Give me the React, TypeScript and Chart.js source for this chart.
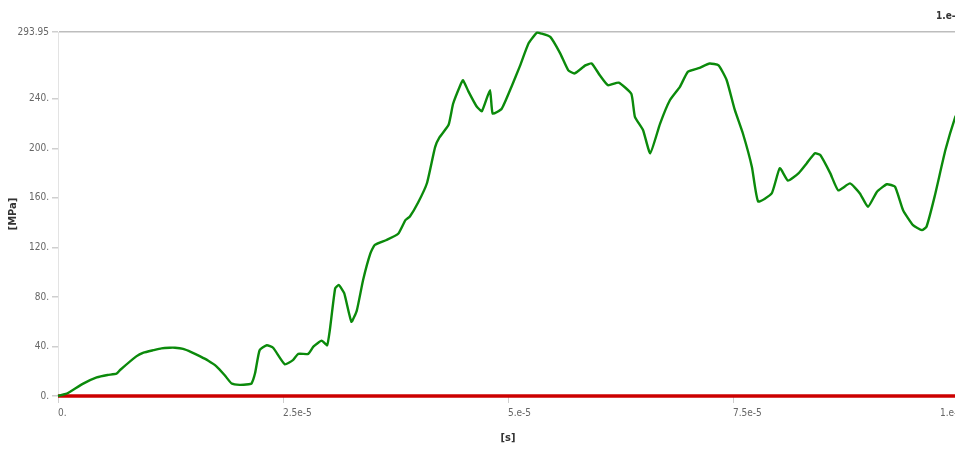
import React, { useEffect, useRef } from "react";
import { Chart, registerables } from "chart.js";

Chart.register(...registerables);

// time in units of 1e-5 s
const timeE5 = [
  0, 0.05, 0.1, 0.28, 0.43, 0.55, 0.65, 0.69, 0.87, 0.95, 1.06, 1.15, 1.24, 1.3, 1.39, 1.48, 1.58, 1.67, 1.76, 1.85,
  1.93, 2.02, 2.12, 2.15, 2.19, 2.24, 2.32, 2.39, 2.52, 2.61, 2.67, 2.78, 2.84, 2.93, 2.99, 3.02, 3.08, 3.12, 3.18,
  3.26, 3.32, 3.39, 3.47, 3.52, 3.65, 3.78, 3.86, 3.91, 4.0, 4.1, 4.19, 4.24, 4.34, 4.39, 4.47, 4.5, 4.56, 4.65, 4.71,
  4.8, 4.83, 4.93, 5.04, 5.13, 5.23, 5.32, 5.37, 5.47, 5.58, 5.67, 5.74, 5.86, 5.93, 6.02, 6.11, 6.23, 6.37, 6.41,
  6.5, 6.58, 6.69, 6.8, 6.91, 7.0, 7.13, 7.24, 7.34, 7.43, 7.52, 7.61, 7.71, 7.78, 7.93, 8.02, 8.11, 8.23, 8.32, 8.41,
  8.47, 8.58, 8.67, 8.8, 8.91, 9.0, 9.1, 9.21, 9.3, 9.39, 9.5, 9.6, 9.65, 9.74, 9.86, 9.97, 10.0,
];

const stressMPa = [
  0, 1, 2, 10, 15, 17, 18, 21, 32, 35, 37, 38.5, 39, 39, 38, 35.5, 32, 28.5, 24, 17,
  10, 9, 9.5, 10, 18.5, 37, 41, 39, 25.6, 29, 34, 34, 40, 44.7, 41, 53, 87, 89.6, 83,
  60, 69, 93.7, 115, 122, 126, 131, 142, 145, 156, 172, 201, 209, 219, 236, 251, 255, 246, 234, 230,
  247, 228, 232, 250, 266, 285, 293.3, 292.7, 290, 276.7, 263, 260.5, 267, 268.6, 259, 251, 253, 244, 225.5,
  214.8, 196, 220, 239, 249.7, 261.9, 265, 268.5, 267, 255, 231, 212, 185, 157, 163.6, 184, 174, 180, 188, 196,
  194.6, 180, 166, 171.7, 163.6, 152.8, 165, 171, 169, 150, 138, 134, 136.7, 161, 198.6, 225.5, 229,
];

const baselineTime = [0, 10];
const baselineValue = [0, 0];

const xTickValues = [0, 2.5, 5, 7.5, 10];
const xTickLabels = ["0.", "2.5e-5", "5.e-5", "7.5e-5", "1.e-4"];
const yTickValues = [0, 40, 80, 120, 160, 200, 240, 293.95];
const yTickLabels = ["0.", "40.", "80.", "120.", "160.", "200.", "240.", "293.95"];
const yMax = 293.95;

const TICK_FONT = '"Liberation Sans Narrow", "DejaVu Sans Condensed", Arial, sans-serif';

export default function App() {
  const canvasRef = useRef<HTMLCanvasElement | null>(null);

  useEffect(() => {
    if (!canvasRef.current) return;
    const lastLabelPlugin = {
      id: "lastLabel",
      afterDraw(chart: any) {
        const xs = chart.scales.x;
        const ctx = chart.ctx;
        const px = xs.getPixelForValue(xTickValues[xTickValues.length - 1]);
        ctx.save();
        ctx.font = `10px ${TICK_FONT}`;
        ctx.fillStyle = "#666";
        ctx.textAlign = "left";
        ctx.textBaseline = "top";
        ctx.fillText(xTickLabels[xTickLabels.length - 1], px - 18, xs.top + 12);
        ctx.font = `bold 10px ${TICK_FONT}`;
        ctx.fillStyle = "#333";
        ctx.fillText(xTickLabels[xTickLabels.length - 1], px - 22, 11);
        ctx.restore();
      },
    };

    const chart = new Chart(canvasRef.current, {
      type: "line",
      data: {
        datasets: [
          {
            label: "stress",
            data: timeE5.map((t, i) => ({ x: t, y: stressMPa[i] })),
            borderColor: "#0b8a0b",
            borderWidth: 2.4,
            pointRadius: 0,
            tension: 0.15,
            order: 0,
            clip: 6,
          },
          {
            label: "zero",
            data: baselineTime.map((t, i) => ({ x: t, y: baselineValue[i] })),
            borderColor: "#cc0000",
            borderWidth: 3.5,
            pointRadius: 0,
            order: 1,
            clip: 6,
          },
        ],
      },
      plugins: [lastLabelPlugin],
      options: {
        animation: false,
        responsive: true,
        maintainAspectRatio: false,
        layout: { padding: { top: 32, right: 17, left: 0, bottom: 0 } },
        plugins: { legend: { display: false }, tooltip: { enabled: false } },
        scales: {
          x: {
            type: "linear",
            min: 0,
            max: 10,
            afterBuildTicks: (scale: any) => {
              scale.ticks = xTickValues.map((v) => ({ value: v }));
            },
            afterFit: (scale: any) => {
              scale.height = 53;
            },
            ticks: {
              align: "start",
              maxRotation: 0,
              autoSkip: false,
              padding: 4,
              color: "#666",
              font: { family: TICK_FONT, size: 10 },
              callback: (v: any) => {
                const i = xTickValues.indexOf(Number(v));
                if (i === xTickValues.length - 1) return "";
                return i >= 0 ? xTickLabels[i] : "";
              },
            },
            grid: {
              drawOnChartArea: false,
              drawTicks: true,
              tickLength: 7,
              tickColor: "#cfcfcf",
            },
            border: { display: false },
            title: {
              display: true,
              text: "[s]",
              color: "#333",
              font: { family: TICK_FONT, size: 11, weight: "bold" },
              padding: { top: 0, bottom: 4 },
            },
          },
          y: {
            type: "linear",
            min: 0,
            max: yMax,
            afterBuildTicks: (scale: any) => {
              scale.ticks = yTickValues.map((v) => ({ value: v }));
            },
            afterFit: (scale: any) => {
              scale.width = 58;
            },
            ticks: {
              padding: 3,
              color: "#666",
              autoSkip: false,
              font: { family: TICK_FONT, size: 10 },
              callback: (v: any) => {
                const i = yTickValues.indexOf(Number(v));
                return i >= 0 ? yTickLabels[i] : "";
              },
            },
            grid: {
              drawTicks: true,
              tickLength: 6,
              tickColor: "#cfcfcf",
              color: (ctx: any) =>
                ctx.tick && ctx.tick.value === yMax ? "#bdbdbd" : "rgba(0,0,0,0)",
              lineWidth: 1.5,
            },
            border: { display: true, color: "#e3e3e3" },
            title: {
              display: true,
              text: "[MPa]",
              color: "#333",
              font: { family: TICK_FONT, size: 11, weight: "bold" },
              padding: { top: 7, bottom: 0 },
            },
          },
        },
      },
    } as any);
    return () => chart.destroy();
  }, []);

  return (
    <div
      style={{
        position: "fixed",
        left: 0,
        top: 0,
        width: 955,
        height: 449,
        overflow: "hidden",
        background: "#fff",
      }}
    >
      <div style={{ width: 975, height: 449, position: "relative" }}>
        <canvas ref={canvasRef} />
      </div>
    </div>
  );
}
